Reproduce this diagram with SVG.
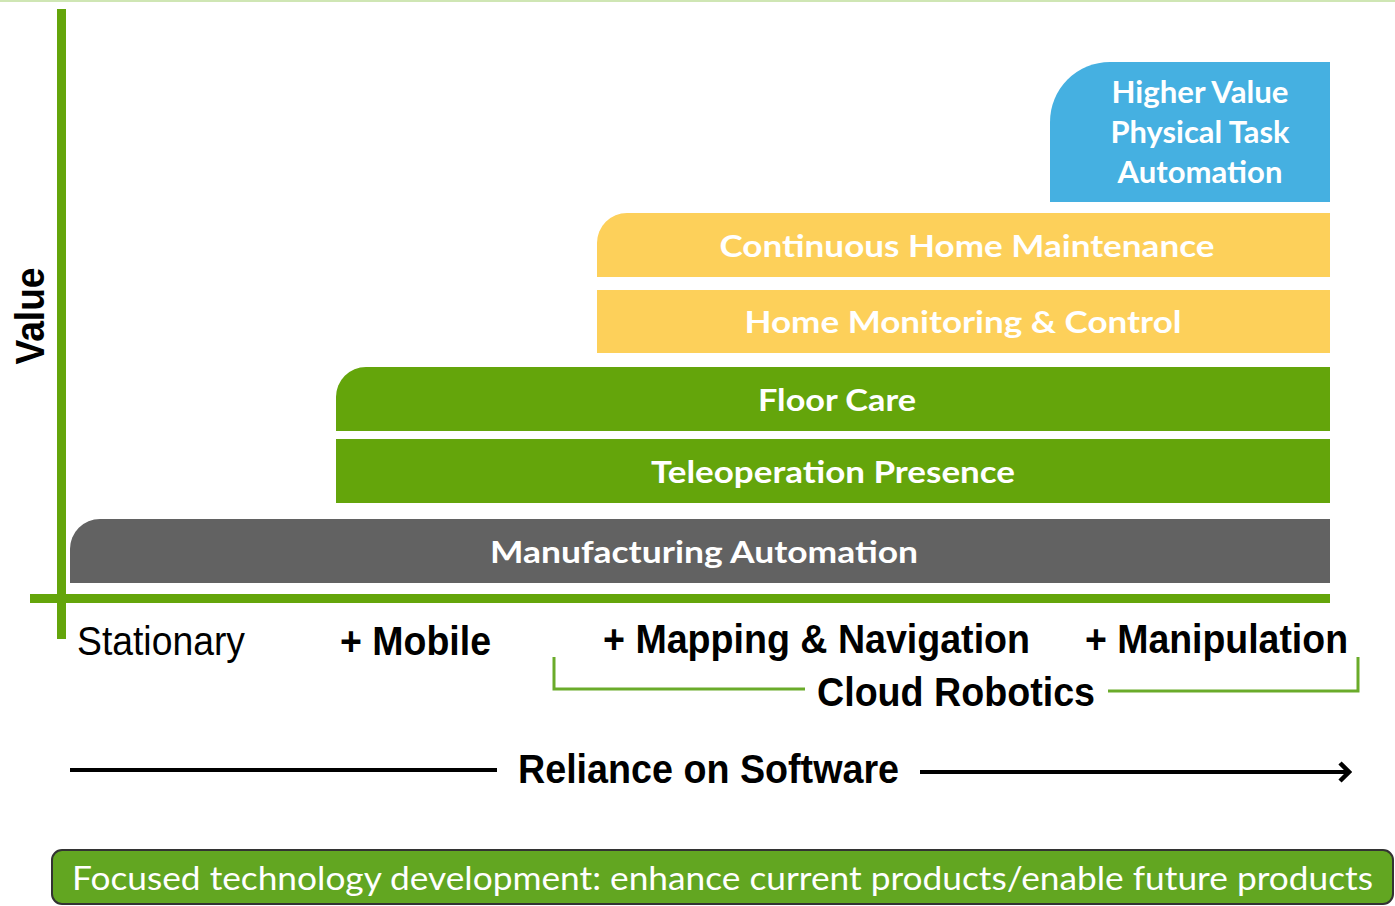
<svg xmlns="http://www.w3.org/2000/svg" width="1395" height="906" viewBox="0 0 1395 906">
  <style>
    .bar-text { font-family: Lato, "Open Sans", sans-serif; font-weight: 700; font-size: 30px; fill: #ffffff; text-anchor: middle; }
    .axis-text { font-family: "Liberation Sans", Arial, sans-serif; font-size: 41px; fill: #000000; }
    .bold { font-weight: 700; }
    .axis { fill: #64a50b; }
    .green { fill: #64a50b; }
    .yellow { fill: #fdd05a; }
    .blue { fill: #45b0e1; }
    .gray { fill: #626262; }
    .bracket { fill: none; stroke: #6aab2a; stroke-width: 3; }
    .arrow { fill: none; stroke: #000000; stroke-width: 4; }
  </style>
  <defs>
    <marker id="chevron" viewBox="0 0 14 22" refX="11" refY="11" markerWidth="14" markerHeight="22" markerUnits="userSpaceOnUse" orient="auto">
      <path d="M2,2 L11,11 L2,20" fill="none" stroke="#000000" stroke-width="4.5" stroke-linejoin="miter"/>
    </marker>
  </defs>

  <rect width="1395" height="906" fill="#ffffff"/>
  <rect x="0" y="0" width="1395" height="2" fill="#cfe6b4"/>

  <!-- axes -->
  <g id="axes">
    <rect class="axis" x="57" y="9" width="9" height="630"/>
    <rect class="axis" x="30" y="594" width="1300" height="9"/>
    <text class="axis-text bold" transform="translate(44,316) rotate(-90)" text-anchor="middle" textLength="97" lengthAdjust="spacingAndGlyphs">Value</text>
  </g>

  <!-- capability bars -->
  <g id="manufacturing-automation">
    <path class="gray" d="M70,549 A30,30 0 0 1 100,519 H1330 V583 H70 Z"/>
    <text class="bar-text" x="704" y="563" textLength="428" lengthAdjust="spacingAndGlyphs">Manufacturing Automation</text>
  </g>
  <g id="teleoperation-presence">
    <rect class="green" x="336" y="439" width="994" height="64"/>
    <text class="bar-text" x="833" y="483" textLength="364" lengthAdjust="spacingAndGlyphs">Teleoperation Presence</text>
  </g>
  <g id="floor-care">
    <path class="green" d="M336,397 A30,30 0 0 1 366,367 H1330 V431 H336 Z"/>
    <text class="bar-text" x="837" y="411" textLength="158" lengthAdjust="spacingAndGlyphs">Floor Care</text>
  </g>
  <g id="home-monitoring">
    <rect class="yellow" x="597" y="290" width="733" height="63"/>
    <text class="bar-text" x="963" y="333" textLength="437" lengthAdjust="spacingAndGlyphs">Home Monitoring &amp; Control</text>
  </g>
  <g id="home-maintenance">
    <path class="yellow" d="M597,243 A30,30 0 0 1 627,213 H1330 V277 H597 Z"/>
    <text class="bar-text" x="967" y="257" textLength="495" lengthAdjust="spacingAndGlyphs">Continuous Home Maintenance</text>
  </g>
  <g id="physical-task-automation">
    <path class="blue" d="M1050,122 A60,60 0 0 1 1110,62 H1330 V202 H1050 Z"/>
    <text class="bar-text" x="1200" y="103" textLength="177" lengthAdjust="spacingAndGlyphs">Higher Value</text>
    <text class="bar-text" x="1200" y="143" textLength="179" lengthAdjust="spacingAndGlyphs">Physical Task</text>
    <text class="bar-text" x="1200" y="183" textLength="165" lengthAdjust="spacingAndGlyphs">Automation</text>
  </g>

  <!-- x-axis stages -->
  <g id="stages">
    <text class="axis-text" x="77" y="655" textLength="168" lengthAdjust="spacingAndGlyphs">Stationary</text>
    <text class="axis-text bold" x="340" y="655" textLength="151" lengthAdjust="spacingAndGlyphs">+ Mobile</text>
    <text class="axis-text bold" x="603" y="653" textLength="427" lengthAdjust="spacingAndGlyphs">+ Mapping &amp; Navigation</text>
    <text class="axis-text bold" x="1085" y="653" textLength="263" lengthAdjust="spacingAndGlyphs">+ Manipulation</text>
    <text class="axis-text bold" x="817" y="706" textLength="278" lengthAdjust="spacingAndGlyphs">Cloud Robotics</text>
  </g>

  <!-- connectors -->
  <g id="connectors">
    <polyline class="bracket" points="554,657 554,689 805,689"/>
    <polyline class="bracket" points="1108,691 1358,691 1358,657"/>
    <line class="arrow" x1="70" y1="770" x2="497" y2="770"/>
    <line class="arrow" x1="920" y1="772" x2="1349" y2="772" marker-end="url(#chevron)"/>
  </g>
  <text class="axis-text bold" x="518" y="783" textLength="381" lengthAdjust="spacingAndGlyphs">Reliance on Software</text>

  <!-- footer banner -->
  <g id="focus-banner">
    <rect x="52" y="850" width="1341" height="54" rx="10" ry="10" fill="#62a621" stroke="#333333" stroke-width="2"/>
    <text x="72" y="890" font-family="Lato, 'Open Sans', sans-serif" font-size="32" fill="#ffffff" textLength="1301" lengthAdjust="spacingAndGlyphs">Focused technology development: enhance current products/enable future products</text>
  </g>
</svg>
